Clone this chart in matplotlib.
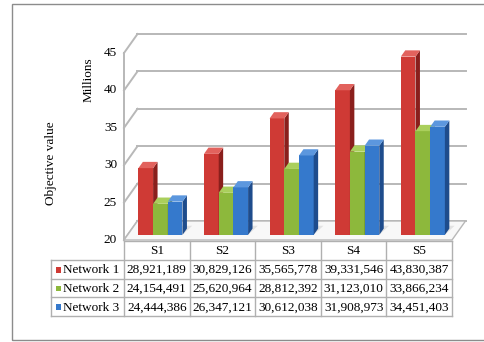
import matplotlib
matplotlib.use("Agg")
import matplotlib.pyplot as plt
import numpy as np
from matplotlib.patches import Polygon, Rectangle
from matplotlib.transforms import IdentityTransform

plt.rcParams["font.family"] = ["Liberation Serif", "DejaVu Serif"]

# data
categories = ["S1", "S2", "S3", "S4", "S5"]
series_names = ["Network 1", "Network 2", "Network 3"]
network1 = [28921189, 30829126, 35565778, 39331546, 43830387]
network2 = [24154491, 25620964, 28812392, 31123010, 33866234]
network3 = [24444386, 26347121, 30612038, 31908973, 34451403]
y_ticks = [20, 25, 30, 35, 40, 45]

series = [network1, network2, network3]
front_cols = ["#CF3A35", "#8DB83C", "#3579CC"]
side_cols = ["#8A1F1C", "#5E7F22", "#1E4C8C"]
top_cols = ["#E2625D", "#AACF5C", "#5C97DE"]
grid_col = "#B8B8B8"
FS = 9.5

W, H = 484, 342
fig = plt.figure(figsize=(W / 100, H / 100), dpi=100)

# outer frame
fig.patches.append(Rectangle((12 / W, 1 - 340 / H), 1.0, 336 / H, transform=fig.transFigure,
                             fill=False, ec="#8C8C8C", lw=1.0))

ax = fig.add_axes([124 / W, 1 - 240 / H, 328 / W, 187 / H])
ax.set_xlim(-0.5, 4.5)
ax.set_ylim(20, 45)
ax.axis("off")

DEPTH = np.array([13.5, 19.0])  # pixel offset of the back wall


def px(x, y, d=0.0):
    return ax.transData.transform((x, y)) + d * DEPTH


def poly(pts, fc, ec="none", lw=0.0, z=2):
    p = Polygon(np.array(pts), closed=True, fc=fc, ec=ec, lw=lw,
                transform=IdentityTransform(), zorder=z, clip_on=False)
    fig.patches.append(p)


def line(p0, p1, z=1, col=grid_col, lw=1.4):
    fig.lines.append(plt.Line2D([p0[0], p1[0]], [p0[1], p1[1]], color=col, lw=lw,
                                transform=IdentityTransform(), zorder=z))


# floor
fl = [px(-0.5, 20), px(4.5, 20), px(4.5, 20, 1), px(-0.5, 20, 1)]
poly(fl, "#F8F8F8", ec=grid_col, lw=1.0, z=1)

# walls: back gridlines and side diagonals
for v in y_ticks:
    line(px(-0.5, v, 1), px(4.5, v, 1))
    line(px(-0.5, v), px(-0.5, v, 1))
line(px(-0.5, 20), px(-0.5, 45))

# bars
w = 0.224
d0, d1 = 0.27, 0.60
for i in range(len(categories)):
    for j, s in enumerate(series):
        v = s[i] / 1e6
        xl = i - 1.5 * w + j * w
        xr = xl + w
        # soft shadow on the floor
        poly([px(xl, 20, d0), px(xr, 20, d0), px(xr + 0.05, 20, d1 + 0.15),
              px(xl + 0.05, 20, d1 + 0.15)], "#E2E2E2", z=1.5)
        poly([px(xl, 20, d0), px(xr, 20, d0), px(xr, v, d0), px(xl, v, d0)], front_cols[j])
        poly([px(xr, 20, d0), px(xr, 20, d1), px(xr, v, d1), px(xr, v, d0)], side_cols[j])
        poly([px(xl, v, d0), px(xr, v, d0), px(xr, v, d1), px(xl, v, d1)], top_cols[j])

# y tick labels
for v in y_ticks:
    ax.annotate(str(v), xy=(-0.5, v), xytext=(-5, 0), textcoords="offset points",
                ha="right", va="center", fontsize=FS)

fig.text(89 / W, 1 - 80 / H, "Millions", rotation=90, ha="center", va="center", fontsize=FS)
fig.text(51 / W, 1 - 163 / H, "Objective value", rotation=90, ha="center", va="center",
         fontsize=FS)

# data table
leg_w = 73 / 65.6
tax = fig.add_axes([51 / W, 1 - 316 / H, 401 / W, 75 / H])
tax.set_xlim(-0.5 - leg_w, 4.5)
tax.set_ylim(4, 0)
tax.axis("off")
tc = "#B0B0B0"
for k in range(6):
    tax.plot([k - 0.5, k - 0.5], [0, 4], color=tc, lw=1.0, clip_on=False)
tax.plot([-0.5 - leg_w] * 2, [1, 4], color=tc, lw=1.0, clip_on=False)
tax.plot([-0.5, 4.5], [0, 0], color=tc, lw=1.0, clip_on=False)
for r in range(1, 5):
    tax.plot([-0.5 - leg_w, 4.5], [r, r], color=tc, lw=1.0, clip_on=False)

for i, c in enumerate(categories):
    tax.text(i, 0.55, c, ha="center", va="center", fontsize=FS)
for j, name in enumerate(series_names):
    tax.add_patch(Rectangle((-0.5 - leg_w + 0.07, j + 1.38), 0.075, 0.3,
                            fc=front_cols[j], ec="none", clip_on=False))
    tax.text(-0.5 - leg_w + 0.19, j + 1.55, name, ha="left", va="center", fontsize=FS)
    for i in range(len(categories)):
        tax.text(i, j + 1.55, f"{series[j][i]:,}", ha="center", va="center", fontsize=FS)

fig.savefig("out.png", dpi=100)
